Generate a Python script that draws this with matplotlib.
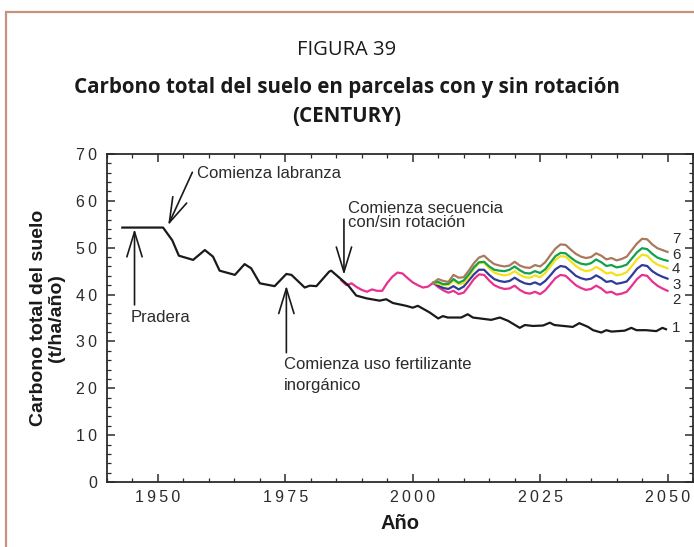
import matplotlib.pyplot as plt
from matplotlib.patches import Rectangle
from matplotlib.ticker import MultipleLocator, FuncFormatter

# ----------------------------
# Data (t/ha of soil carbon by year)
# ----------------------------
years_base = [1943, 1951, 1952.8, 1954.1, 1956.9, 1959.2, 1960.8, 1962.1, 1965.1,
              1967.0, 1968.3, 1970.0, 1972.9, 1975.2, 1976.2, 1978.8, 1979.8,
              1981.1, 1983.6, 1984.0, 1985.7, 1987.3, 1988.9, 1990.9, 1993.5,
              1994.8, 1996.1, 1998.7, 2000.0, 2001.0, 2003.3, 2005.0, 2005.9,
              2006.9, 2009.5, 2010.8, 2011.8, 2015.4, 2017.1, 2018.7, 2021.0,
              2022.0, 2023.6, 2025.6, 2026.9, 2027.8, 2031.4, 2032.7, 2034.4,
              2035.4, 2037.0, 2038.0, 2039.0, 2041.6, 2042.9, 2043.9, 2045.8,
              2047.8, 2049.0, 2049.7]
carbon_1 = [54.3, 54.3, 51.6, 48.3, 47.4, 49.5, 48.1, 45.1, 44.2,
            46.5, 45.6, 42.4, 41.8, 44.4, 44.2, 41.5, 41.9,
            41.8, 44.9, 45.1, 43.5, 42.0, 39.8, 39.2, 38.7,
            39.0, 38.2, 37.6, 37.2, 37.6, 36.2, 34.9, 35.4,
            35.1, 35.1, 35.8, 35.1, 34.6, 35.1, 34.4, 32.9,
            33.5, 33.3, 33.4, 34.0, 33.5, 33.1, 33.9, 33.1,
            32.4, 31.9, 32.4, 32.1, 32.3, 32.9, 32.4, 32.4,
            32.2, 32.9, 32.6]

years_2 = list(range(1986, 2051))
carbon_2 = [43.0, 42.0, 42.4, 41.6, 41.0, 40.6, 41.1, 40.8, 40.8, 42.5,
            43.8, 44.7, 44.5, 43.5, 42.6, 42.0, 41.5, 41.7,
            42.5, 41.6, 40.9, 40.4, 40.8, 40.1, 40.4, 41.8, 43.3, 44.3,
            44.2, 43.0, 42.0, 41.5, 41.2, 41.3, 41.9, 41.0, 40.4, 40.2,
            40.6, 40.1, 40.9, 42.2, 43.5, 44.2, 44.0, 43.0, 42.0, 41.4,
            41.0, 41.2, 41.9, 41.3, 40.4, 40.6, 40.0, 40.2, 40.6, 41.9,
            43.3, 44.2, 44.0, 42.8, 41.9, 41.3, 40.8]

years_rot = list(range(2004, 2051))
carbon_3 = [42.5, 41.9, 41.4, 41.2, 41.8, 41.1, 41.7, 43.0, 44.3, 45.3,
            45.3, 44.2, 43.3, 42.9, 42.7, 42.9, 43.6, 42.9, 42.4, 42.2,
            42.6, 42.1, 42.9, 44.1, 45.4, 46.1, 45.9, 45.0, 44.0, 43.5,
            43.2, 43.4, 44.1, 43.5, 42.7, 42.9, 42.3, 42.5, 42.8, 44.1,
            45.5, 46.3, 46.1, 45.0, 44.3, 43.8, 43.4]
carbon_4 = [42.5, 42.3, 42.0, 42.0, 43.0, 42.2, 42.4, 43.8, 45.5, 46.7,
            46.8, 45.6, 44.7, 44.3, 44.1, 44.3, 45.0, 44.2, 43.7, 43.6,
            44.1, 43.7, 44.6, 46.0, 47.4, 48.2, 48.1, 47.1, 46.1, 45.4,
            45.0, 45.2, 45.9, 45.3, 44.5, 44.7, 44.1, 44.3, 44.8, 46.1,
            47.5, 48.5, 48.3, 47.2, 46.4, 46.0, 45.6]
carbon_6 = [42.5, 42.7, 42.2, 42.3, 43.3, 42.5, 43.0, 44.3, 45.8, 46.9,
            47.0, 46.0, 45.3, 45.1, 45.0, 45.3, 46.0, 45.2, 44.6, 44.5,
            45.0, 44.6, 45.4, 46.8, 48.2, 48.9, 48.8, 47.9, 47.1, 46.6,
            46.4, 46.7, 47.5, 46.9, 46.1, 46.3, 45.8, 46.0, 46.4, 47.7,
            49.0, 49.9, 49.7, 48.7, 47.9, 47.5, 47.2]
carbon_7 = [42.5, 43.3, 42.9, 42.7, 44.2, 43.6, 43.7, 45.1, 46.7, 47.9,
            48.3, 47.3, 46.5, 46.2, 46.0, 46.2, 47.0, 46.2, 45.8, 45.7,
            46.3, 46.0, 46.9, 48.4, 49.8, 50.7, 50.6, 49.6, 48.7, 48.1,
            47.8, 48.0, 48.8, 48.3, 47.5, 47.8, 47.3, 47.6, 48.1, 49.5,
            50.9, 51.9, 51.8, 50.7, 49.9, 49.5, 49.1]

line_labels = ["1", "2", "3", "4", "6", "7"]

# ----------------------------
# Figure setup
# ----------------------------
plt.rcParams['font.family'] = ['Liberation Sans', 'DejaVu Sans']
ink = "#2b2b2b"
title_font = ["Open Sans", "DejaVu Sans"]

fig = plt.figure(figsize=(6.94, 5.47), dpi=100)
fig.patches.append(Rectangle((5.5 / 694, -0.1), 1.2, (547 - 11.5) / 547 + 0.1,
                             transform=fig.transFigure, fill=False,
                             edgecolor="#c8917e", lw=1.6))

fig.text(0.5, 1 - 50 / 547, "FIGURA 39", ha="center", va="center",
         fontsize=14.5, family=title_font, color="#1a1a1a")
fig.text(0.5, 1 - 88 / 547, "Carbono total del suelo en parcelas con y sin rotación",
         ha="center", va="center", fontsize=14.8, fontweight="bold",
         family=title_font, color="#1a1a1a")
fig.text(0.5, 1 - 117 / 547, "(CENTURY)", ha="center", va="center",
         fontsize=14.8, fontweight="bold", family=title_font, color="#1a1a1a")

ax = fig.add_axes([107 / 694, 65 / 547, 586 / 694, 328 / 547])
ax.set_xlim(1940, 2055)
ax.set_ylim(0, 70)

# ----------------------------
# Series
# ----------------------------
ax.plot(years_2, carbon_2, color="#e8318f", lw=1.6, zorder=3)
ax.plot(years_rot, carbon_3, color="#2e3b98", lw=1.6, zorder=3)
ax.plot(years_rot, carbon_4, color="#f2e21c", lw=1.6, zorder=3)
ax.plot(years_rot, carbon_6, color="#12a24a", lw=1.6, zorder=3)
ax.plot(years_rot, carbon_7, color="#a9795c", lw=1.6, zorder=3)
ax.plot(years_base, carbon_1, color="#1a1a1a", lw=1.6, zorder=4)

# numbers at the right-hand end of each line
for lab, yv in zip(line_labels, [32.9, 38.8, 42.1, 45.4, 48.5, 51.9]):
    ax.text(2050.9, yv, lab, fontsize=10.8, ha="left", va="center", color=ink)

# ----------------------------
# Event arrows
# ----------------------------
head = dict(arrowstyle="->,head_length=1.8,head_width=0.55", lw=1.2,
            color="#1a1a1a", shrinkA=0, shrinkB=0)

ax.annotate("", xy=(1945.4, 54.0), xytext=(1945.4, 37.8), arrowprops=head)
ax.text(1944.6, 35.1, "Pradera", fontsize=12, ha="left", va="center", color=ink)

ax.annotate("", xy=(1952.0, 54.8), xytext=(1956.75, 66.1), arrowprops=head)
ax.text(1957.7, 65.8, "Comienza labranza", fontsize=12, ha="left",
        va="center", color=ink)

ax.annotate("", xy=(1975.2, 41.9), xytext=(1975.2, 27.6), arrowprops=head)
ax.text(1974.7, 25.0, "Comienza uso fertilizante", fontsize=12, ha="left",
        va="center", color=ink)
ax.text(1974.7, 20.7, "inorgánico", fontsize=12, ha="left", va="center",
        color=ink)

ax.annotate("", xy=(1986.5, 44.2), xytext=(1986.5, 56.1), arrowprops=head)
ax.text(1987.3, 58.3, "Comienza secuencia", fontsize=12, ha="left",
        va="center", color=ink)
ax.text(1987.3, 55.4, "con/sin rotación", fontsize=12, ha="left",
        va="center", color=ink)

# ----------------------------
# Axes styling
# ----------------------------
for sp in ax.spines.values():
    sp.set_color(ink)
    sp.set_linewidth(1.3)

ax.xaxis.set_major_locator(MultipleLocator(25))
ax.xaxis.set_minor_locator(MultipleLocator(5))
ax.yaxis.set_major_locator(MultipleLocator(10))
ax.yaxis.set_minor_locator(MultipleLocator(2))
spaced = FuncFormatter(lambda v, p: "\u2009".join(str(int(round(v)))))
ax.xaxis.set_major_formatter(spaced)
ax.yaxis.set_major_formatter(spaced)

ax.tick_params(which="both", direction="in", top=True, right=True,
               color=ink, labelcolor=ink, labelsize=11.5)
ax.tick_params(which="major", length=6, width=1.1, pad=6)
ax.tick_params(which="minor", length=3, width=0.9)
ax.tick_params(axis="y", which="major", pad=7)

ax.set_xlabel("Año", fontsize=14.5, fontweight="bold", color="#1a1a1a",
              labelpad=6)
ax.set_ylabel("Carbono total del suelo\n(t/ha/año)", fontsize=14,
              fontweight="bold", color="#1a1a1a", linespacing=1.05,
              labelpad=8)

plt.savefig("out.png", dpi=100)
